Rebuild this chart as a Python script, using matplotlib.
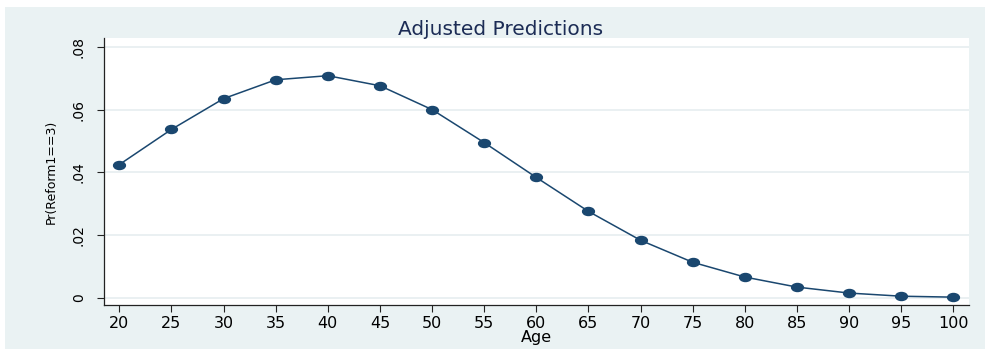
import matplotlib.pyplot as plt
import matplotlib.patches as mpatches
from matplotlib.path import Path
from matplotlib.transforms import Affine2D

# Adjusted predictions by age
age = [20, 25, 30, 35, 40, 45, 50, 55, 60, 65, 70, 75, 80, 85, 90, 95, 100]
pr = [0.0425, 0.0537, 0.0635, 0.0695, 0.0708, 0.0676, 0.0600, 0.0495, 0.0384,
      0.0276, 0.0184, 0.0114, 0.0067, 0.0035, 0.0016, 0.0006, 0.0003]
yticks = [0, 0.02, 0.04, 0.06, 0.08]
ytick_labels = ['0', '.02', '.04', '.06', '.08']

W, H = 985, 349
bg = '#eaf2f3'
navy = '#1a476f'
font = 'DejaVu Sans'

fig = plt.figure(figsize=(W / 100, H / 100), dpi=100, facecolor=bg)
# thin white margins on the left and top edges
for rect in [(0, 0, 5 / W, 1), (0, 1 - 7 / H, 1, 7 / H)]:
    fig.patches.append(mpatches.Rectangle(rect[:2], rect[2], rect[3],
                                          transform=fig.transFigure,
                                          facecolor='white', edgecolor='none'))

ax = fig.add_axes([104 / W, 1 - 305 / H, (969 - 104) / W, (305 - 38) / H])
ax.set_facecolor('white')

# slightly wide ellipse marker
ellipse = Path.unit_circle().transformed(Affine2D().scale(1.0, 0.68))

ax.plot(age, pr, color=navy, lw=1.1, marker=ellipse, markersize=8.5,
        markerfacecolor=navy, markeredgecolor=navy, zorder=3)

ax.set_xlim(18.53, 101.5)
ax.set_ylim(-0.0022, 0.0828)
ax.set_xticks(age)
ax.set_xticklabels([str(a) for a in age], fontsize=11.5, family=font)
ax.set_yticks(yticks)
ax.set_yticklabels(ytick_labels, rotation=90, va='center', fontsize=10,
                   family=font)

ax.grid(axis='y', color='#e6eef0', lw=1.2)
ax.set_axisbelow(True)
for side in ('top', 'right'):
    ax.spines[side].set_visible(False)
for side in ('left', 'bottom'):
    ax.spines[side].set_color('#222222')
    ax.spines[side].set_linewidth(0.9)
ax.tick_params(axis='both', direction='out', length=5, width=0.8, color='#222222')
ax.tick_params(axis='x', pad=3)
ax.tick_params(axis='y', pad=8)

ax.set_xlabel('Age', fontsize=11.5, family=font, labelpad=-1)
ax.set_ylabel('Pr(Reform1==3)', fontsize=9, family=font, labelpad=10)

fig.text(501 / W, 1 - 35 / H, 'Adjusted Predictions', ha='center', va='baseline',
         fontsize=14.5, color='#1c2c55', family=font)

fig.savefig('out.png', dpi=100, facecolor=fig.get_facecolor())
